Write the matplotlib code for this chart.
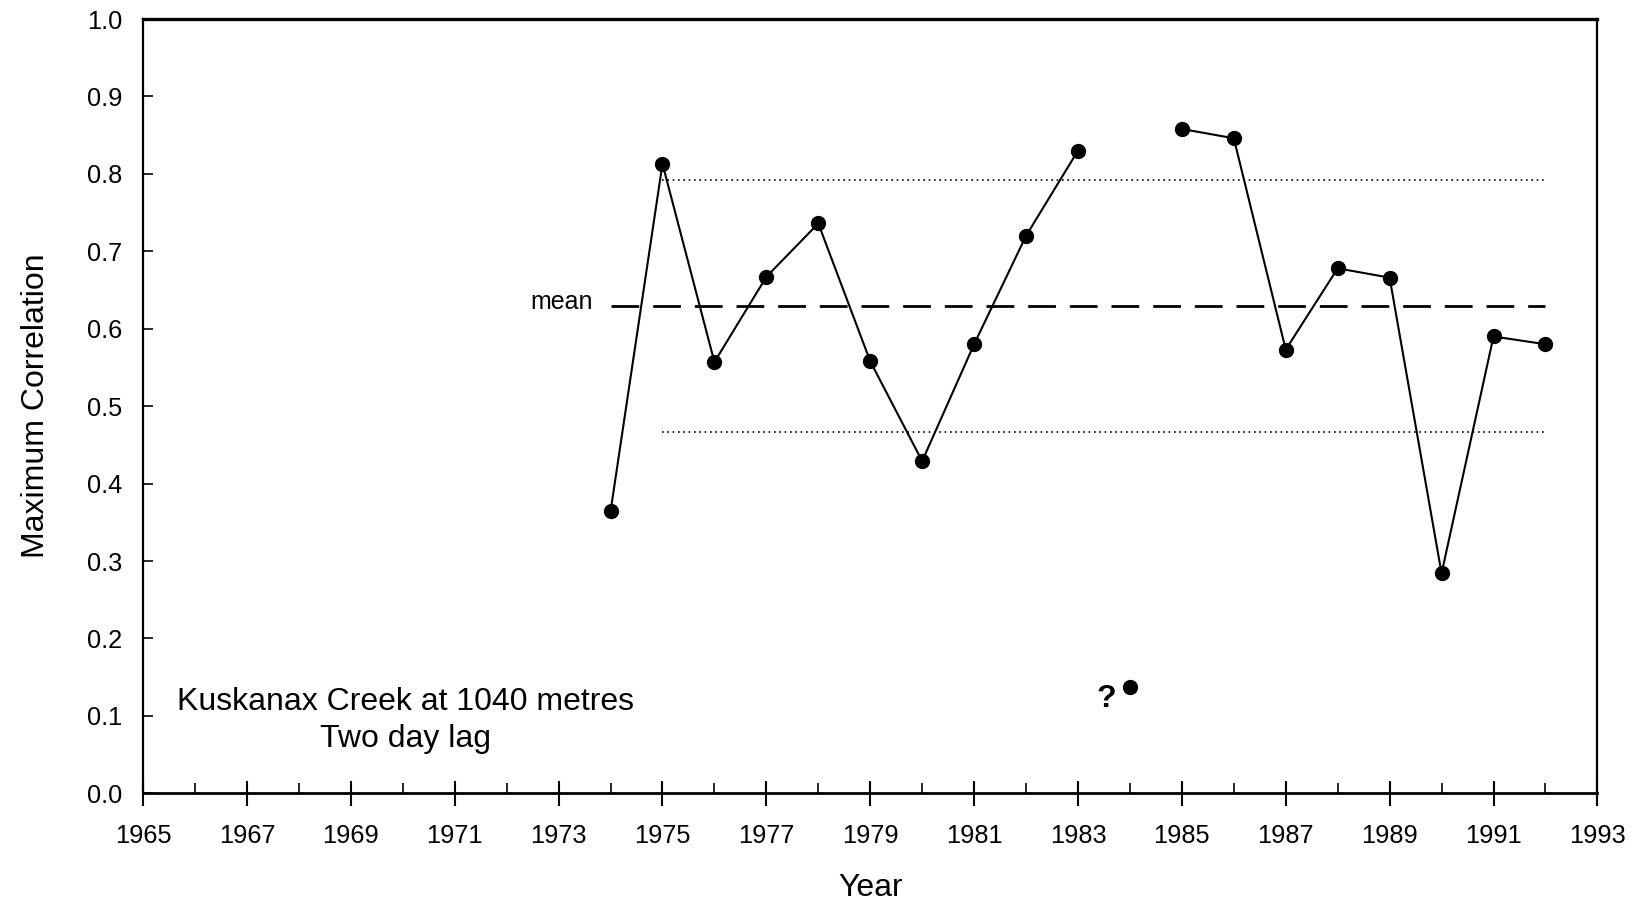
import numpy as np
import matplotlib
matplotlib.use("Agg")
import matplotlib.pyplot as plt
from matplotlib.ticker import MultipleLocator, FixedLocator

# ----- yearly maximum correlation, Kuskanax Creek (two day lag) -----
years = [1974, 1975, 1976, 1977, 1978, 1979, 1980, 1981, 1982, 1983,
         1984, 1985, 1986, 1987, 1988, 1989, 1990, 1991, 1992]
max_corr = [0.364, 0.813, 0.557, 0.667, 0.736, 0.558, 0.429, 0.580, 0.720, 0.830,
            0.137, 0.858, 0.846, 0.573, 0.678, 0.666, 0.284, 0.590, 0.580]
doubtful_year = 1984  # questionable value, left out of the line and the stats

station_text = "Kuskanax Creek at 1040 metres\nTwo day lag"
xtick_major = list(range(1965, 1994, 2))
xtick_minor = list(range(1966, 1993, 2))

plt.rcParams['font.family'] = ['Liberation Sans', 'DejaVu Sans']

yrs = np.array(years, dtype=float)
vals = np.array(max_corr)
good = yrs != doubtful_year

# line is broken at the doubtful year
line_vals = vals.copy()
line_vals[~good] = np.nan

mean = vals[good].mean()
sd = vals[good].std(ddof=1)

fig = plt.figure(figsize=(16.37, 9.06), dpi=100)
ax = fig.add_axes([0.0874, 0.1244, 0.8884, 0.8546])

ax.plot(yrs, line_vals, color='black', lw=1.5, zorder=3)
ax.plot(yrs, vals, 'o', color='black', ms=10, zorder=4)

# mean and +/- one standard deviation
ax.plot([1974, 1992], [mean, mean], color='black', lw=2, dashes=(10, 5), zorder=2)
ax.plot([1975, 1992], [mean + sd, mean + sd], color='black', lw=1.2, ls=(0, (1, 2.2)), zorder=2)
ax.plot([1975, 1992], [mean - sd, mean - sd], color='black', lw=1.2, ls=(0, (1, 2.2)), zorder=2)
ax.text(1973.65, mean + 0.005, "mean", ha='right', va='center', fontsize=18)

ax.text(1970.05, 0.094, station_text, ha='center', va='center', fontsize=23,
        linespacing=1.3)
ax.text(1983.55, 0.122, "?", ha='center', va='center', fontsize=23, fontweight='bold')

ax.set_xlim(1965, 1993)
ax.set_ylim(0, 1.0)

ax.xaxis.set_major_locator(FixedLocator(xtick_major))
ax.xaxis.set_minor_locator(FixedLocator(xtick_minor))
ax.yaxis.set_major_locator(MultipleLocator(0.1))
ax.set_yticklabels([f"{v:.1f}" for v in ax.get_yticks()])

ax.tick_params(axis='x', which='major', direction='inout', length=18, width=1.5,
               labelsize=18.3, pad=13)
ax.tick_params(axis='x', which='minor', direction='in', length=7, width=1.2)
ax.tick_params(axis='y', which='major', direction='in', length=7, width=1.2,
               labelsize=18.3, pad=15)

for side, w in [('left', 1.6), ('bottom', 2.0), ('top', 2.4), ('right', 1.6)]:
    ax.spines[side].set_linewidth(w)

ax.set_xlabel("Year", fontsize=23, labelpad=18)
ax.set_ylabel("Maximum Correlation", fontsize=23, labelpad=26)

fig.savefig("out.png", dpi=100)
